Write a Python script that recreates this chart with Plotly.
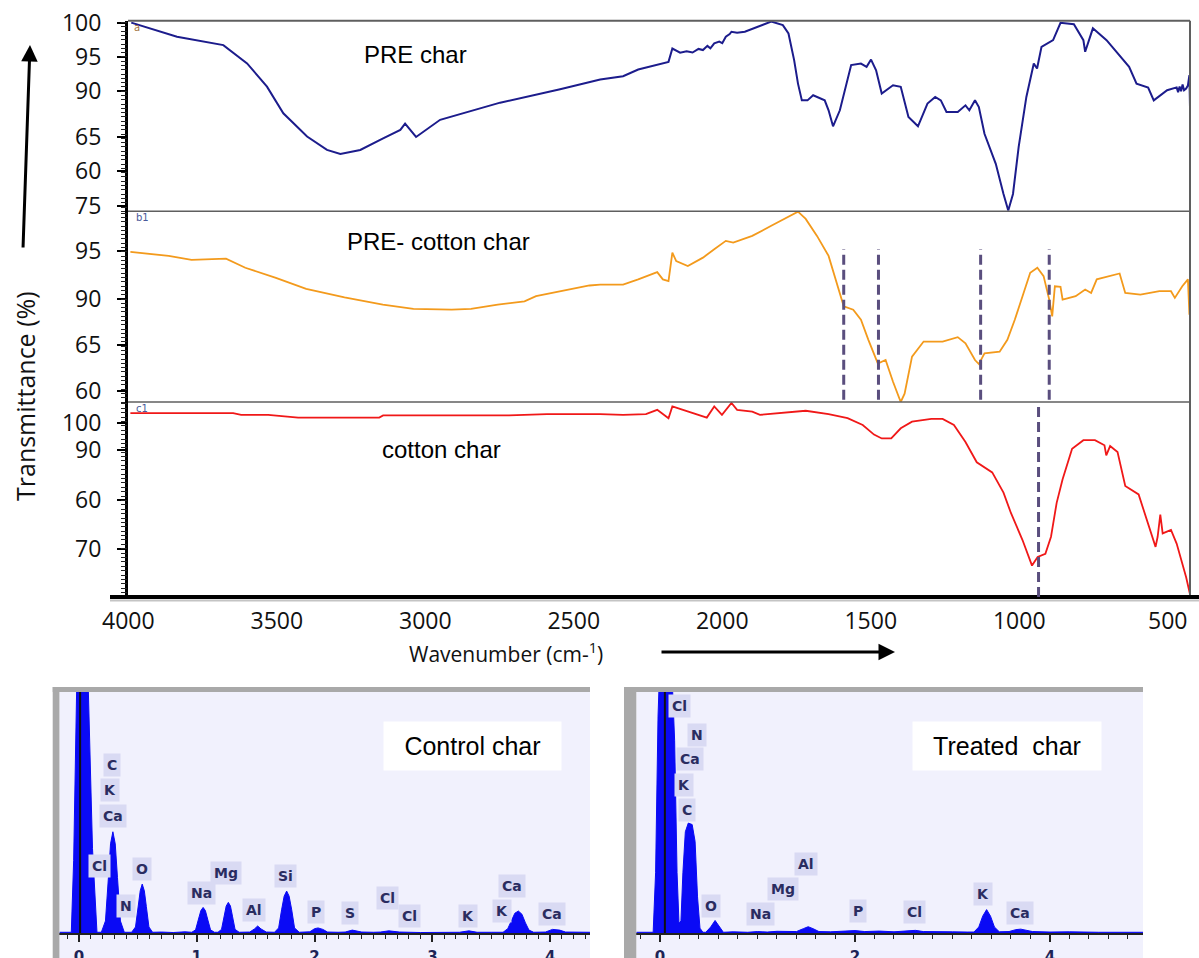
import plotly.graph_objects as go

# ---------------- FTIR spectra ----------------
# x: wavenumber (cm-1); y: transmittance expressed as relative height inside each stacked panel (0-100)
pre_wn = [3990, 3836, 3680, 3600, 3533, 3478, 3398, 3331, 3286, 3219,
          3142, 3084, 3068, 3031, 2950, 2748, 2546, 2411, 2334, 2283,
          2181, 2168, 2142, 2120, 2100, 2080, 2065, 2050, 2040, 2027,
          2010, 2000, 1988, 1975, 1969, 1950, 1924, 1835, 1796, 1777,
          1758, 1745, 1732, 1713, 1694, 1655, 1642, 1627, 1604, 1585,
          1566, 1533, 1514, 1499, 1482, 1463, 1425, 1399, 1373, 1341,
          1309, 1283, 1264, 1245, 1207, 1181, 1168, 1149, 1136, 1117,
          1079, 1053, 1037, 1021, 1002, 976, 951, 940, 925, 886,
          861, 816, 784, 778, 752, 706, 667, 630, 605, 566,
          547, 502, 470, 465, 460, 455, 450, 445, 438, 432,
          427, 426, 425]
pre_t = [99.0, 91.6, 87.2, 77.6, 65.4, 51.4, 39.2, 32.2, 30.1, 32.2,
         38.3, 42.7, 46.0, 39.0, 48.0, 57.0, 64.0, 69.1, 70.9, 74.4,
         78.4, 85.4, 83.2, 84.0, 83.3, 85.2, 84.6, 86.8, 85.5, 88.1,
         89.0, 88.2, 91.6, 93.0, 94.2, 93.7, 94.2, 99.5, 97.7, 93.3,
         79.3, 67.0, 58.2, 58.2, 60.9, 58.2, 53.0, 44.6, 53.0, 65.3,
         76.7, 77.5, 75.8, 79.6, 74.0, 61.8, 66.1, 65.3, 49.5, 44.6,
         56.5, 60.0, 58.2, 52.1, 52.1, 55.6, 53.0, 58.2, 54.7, 40.7,
         24.9, 9.1, 0.4, 9.1, 33.7, 60.0, 77.5, 74.9, 86.3, 89.8,
         98.9, 98.2, 89.8, 83.7, 96.0, 89.8, 82.8, 75.8, 67.0, 64.9,
         58.2, 63.5, 65.0, 62.5, 65.5, 63.0, 66.5, 63.5, 64.4, 66.0,
         71.4, 60.0, 54.7]

blend_wn = [3993, 3864, 3787, 3700, 3671, 3606, 3503, 3401, 3272, 3143,
            3040, 2911, 2846, 2756, 2666, 2627, 2524, 2447, 2411, 2334,
            2283, 2219, 2200, 2181, 2168, 2155, 2116, 2065, 2027, 1988,
            1963, 1899, 1835, 1771, 1745, 1719, 1681, 1642, 1617, 1591,
            1559, 1533, 1508, 1476, 1450, 1425, 1399, 1386, 1361, 1322,
            1258, 1207, 1181, 1149, 1136, 1117, 1066, 1040, 1015, 989,
            963, 939, 918, 899, 889, 880, 861, 854, 810, 778,
            758, 739, 694, 662, 643, 592, 528, 489, 476, 451,
            432, 427]
blend_t = [78.7, 76.6, 74.5, 75.0, 75.2, 70.4, 65.1, 59.3, 54.9, 51.1,
           48.8, 48.4, 48.8, 51.1, 52.8, 55.5, 58.6, 61.1, 61.6, 61.6,
           64.3, 68.1, 64.3, 63.4, 78.3, 73.9, 71.3, 75.7, 80.1, 84.5,
           83.6, 87.1, 92.4, 97.7, 99.8, 96.0, 87.1, 76.6, 64.3, 50.2,
           48.4, 43.1, 32.6, 20.2, 22.0, 10.6, 0.0, 4.4, 23.8, 31.7,
           31.7, 34.0, 30.8, 22.0, 19.9, 25.5, 26.4, 32.6, 43.1, 55.5,
           67.8, 70.4, 66.0, 53.7, 44.9, 60.7, 60.4, 53.7, 55.5, 59.0,
           57.2, 64.3, 66.0, 67.4, 57.2, 56.3, 58.1, 58.1, 54.6, 60.7,
           64.3, 45.8]

cotton_wn = [3993, 3647, 3620, 3529, 3428, 3155, 3142, 2718, 2590, 2411,
             2334, 2257, 2219, 2181, 2168, 2116, 2052, 2027, 2001, 1969,
             1950, 1899, 1873, 1719, 1642, 1578, 1527, 1489, 1463, 1431,
             1399, 1361, 1296, 1258, 1220, 1181, 1143, 1091, 1053, 1028,
             989, 957, 938, 912, 893, 874, 854, 822, 784, 745,
             713, 707, 694, 669, 643, 598, 566, 541, 534, 525,
             517, 489, 470, 451, 438, 425]
cotton_t = [94.3, 94.3, 93.4, 93.4, 92.0, 92.0, 93.1, 93.1, 93.8, 93.8,
            93.4, 93.8, 96.0, 91.7, 97.7, 95.1, 92.0, 97.7, 93.4, 99.5,
            96.0, 95.1, 93.4, 95.5, 93.8, 91.7, 88.2, 83.3, 81.3, 81.3,
            86.5, 89.9, 91.3, 91.3, 88.2, 79.5, 69.1, 63.9, 53.5, 43.1,
            29.2, 16.1, 20.5, 22.2, 30.9, 48.3, 60.4, 76.0, 80.4, 80.4,
            77.8, 72.6, 77.4, 74.3, 56.9, 52.6, 37.8, 25.7, 30.9, 42.2,
            32.6, 34.4, 27.4, 17.0, 10.1, 1.4]

blend_mark_wn = [1591, 1474, 1130, 899]
cotton_mark_wn = [935]

ftir_x_ticks = [4000, 3500, 3000, 2500, 2000, 1500, 1000, 500]
pre_ytick_pos = [98.9, 81.1, 63.3, 39.2, 21.3, 2.7]
pre_ytick_text = ["100", "95", "90", "65", "60", "75"]
blend_ytick_pos = [79, 54, 30, 6]
blend_ytick_text = ["95", "90", "65", "60"]
cotton_ytick_pos = [89.1, 75.2, 49.6, 24.8]
cotton_ytick_text = ["100", "90", "60", "70"]

# ---------------- EDS spectra (x: energy keV, y: relative counts, 100 = top of frame) ----------------
ctrl_kev = [-0.166, -0.065, -0.045, -0.02, 0.03, 0.08, 0.115, 0.153, 0.19, 0.225,
            0.25, 0.268, 0.288, 0.308, 0.327, 0.352, 0.385, 0.415, 0.447, 0.48,
            0.502, 0.52, 0.537, 0.555, 0.572, 0.594, 0.625, 0.7, 0.8, 0.9,
            0.958, 0.99, 1.015, 1.035, 1.054, 1.073, 1.092, 1.117, 1.15, 1.18,
            1.21, 1.233, 1.25, 1.268, 1.286, 1.303, 1.325, 1.36, 1.45, 1.49,
            1.517, 1.545, 1.59, 1.66, 1.695, 1.72, 1.742, 1.763, 1.784, 1.806,
            1.83, 1.87, 1.93, 1.96, 2.0, 2.03, 2.07, 2.11, 2.2, 2.26,
            2.32, 2.4, 2.5, 2.56, 2.63, 2.72, 2.9, 3.1, 3.23, 3.31,
            3.38, 3.5, 3.6, 3.64, 3.67, 3.7, 3.73, 3.76, 3.79, 3.82,
            3.86, 3.96, 4.02, 4.08, 4.13, 4.25, 4.338]
ctrl_cnt = [0.3, 0.3, 30, 100, 150, 100, 35, 0.3, 0.3, 5,
            23, 37, 42, 37, 23, 5, 0.3, 0.4, 0.3, 2.5,
            11, 17.5, 20.3, 17.5, 11, 2.5, 0.3, 0.4, 0.2, 0.5,
            0.3, 1.3, 5.8, 9.3, 10.6, 9.3, 5.8, 1.3, 0.3, 0.3,
            1.5, 7, 11.2, 12.7, 11.2, 7, 1.5, 0.3, 0.4, 1.7,
            2.9, 1.7, 0.4, 0.3, 2.1, 9.6, 15.3, 17.4, 15.3, 9.6,
            2.1, 0.3, 0.3, 0.5, 1.8, 2.1, 1.5, 0.4, 0.3, 0.4,
            1.2, 0.4, 0.3, 0.4, 0.9, 0.4, 0.2, 0.3, 0.3, 0.9,
            0.3, 0.3, 0.3, 1.8, 5, 8.2, 9.1, 7.8, 4.2, 1.2,
            0.3, 0.4, 1.5, 1.2, 0.4, 0.2, 0.3]

trt_kev = [-0.243, -0.07, -0.045, -0.02, 0.03, 0.1, 0.15, 0.175, 0.195, 0.215,
           0.235, 0.26, 0.29, 0.33, 0.36, 0.385, 0.41, 0.44, 0.47, 0.52,
           0.565, 0.61, 0.65, 0.75, 0.9, 1.0, 1.1, 1.2, 1.3, 1.4,
           1.47, 1.52, 1.57, 1.63, 1.75, 1.9, 2.0, 2.1, 2.25, 2.4,
           2.55, 2.62, 2.7, 2.85, 3.0, 3.15, 3.22, 3.27, 3.31, 3.35,
           3.39, 3.43, 3.48, 3.58, 3.65, 3.7, 3.75, 3.82, 4.0, 4.2,
           4.5, 4.8, 4.954]
trt_cnt = [0.3, 0.3, 25, 90, 150, 130, 80, 25, 4, 5,
           25, 42, 45.6, 45, 38, 15, 2, 0.3, 0.3, 2.5,
           5.2, 2.5, 0.3, 0.5, 0.3, 0.6, 0.4, 0.7, 0.5, 0.6,
           1.8, 2.6, 1.8, 0.6, 0.5, 0.7, 1.0, 0.6, 0.8, 0.5,
           0.8, 1.1, 0.6, 0.7, 0.5, 0.4, 0.4, 2.5, 7, 9.7,
           7, 2.5, 0.5, 0.6, 1.4, 1.6, 1.3, 0.6, 0.4, 0.5,
           0.3, 0.4, 0.3]

ctrl_el = ["C", "K", "Ca", "Cl", "N", "O", "Na", "Mg", "Al", "Si", "P", "S", "Cl", "Cl", "K", "K", "Ca", "Ca"]
ctrl_el_kev = [0.28, 0.263, 0.289, 0.178, 0.399, 0.535, 1.036, 1.252, 1.486, 1.749, 2.012, 2.3, 2.623, 2.81, 3.299, 3.587, 3.679, 4.015]
ctrl_el_y = [69.7, 59.3, 48.5, 27.8, 11.2, 26.6, 16.6, 24.9, 9.5, 23.7, 8.7, 8.3, 14.5, 7.1, 7.1, 9.1, 19.5, 7.9]

trt_el = ["Cl", "N", "Ca", "K", "C", "Al", "Mg", "O", "Na", "P", "Cl", "K", "Ca"]
trt_el_kev = [0.205, 0.379, 0.308, 0.246, 0.277, 1.497, 1.257, 0.521, 1.03, 2.029, 2.615, 3.31, 3.692]
trt_el_y = [94.2, 82.2, 72.2, 61.5, 51.1, 28.7, 18.4, 11.4, 8.0, 9.0, 8.8, 16.3, 8.4]

ctrl_zero_kev = 0.01
trt_zero_kev = 0.05

# ---------------- layout helpers (pixel -> paper) ----------------
W, H = 1199, 958
def fx(p):
    return p / W
def fy(p):
    return 1 - p / H

FL, FR = 128, 1190
P1T, P1B, P2B, P3B = 20.7, 211.3, 402, 597
COMB_STEP = 2.25

BLUE = "#1c1c8c"
ORANGE = "#f39a1c"
RED = "#f01818"
MARK = "#5a4e7e"
EDS_BLUE = "#0a0af5"
LAV = "#f1f1fd"
FRAME = "#a9a9a9"

fig = go.Figure()

fig.add_trace(go.Scatter(x=pre_wn, y=pre_t, xaxis="x", yaxis="y", mode="lines",
                         line=dict(color=BLUE, width=2), showlegend=False))
fig.add_trace(go.Scatter(x=blend_wn, y=blend_t, xaxis="x", yaxis="y2", mode="lines",
                         line=dict(color=ORANGE, width=1.8), showlegend=False))
fig.add_trace(go.Scatter(x=cotton_wn, y=cotton_t, xaxis="x", yaxis="y3", mode="lines",
                         line=dict(color=RED, width=1.8), showlegend=False))
# empty traces so that the overlaid comb-tick axes get drawn
for ax_id in ("y6", "y7", "y8"):
    fig.add_trace(go.Scatter(x=[], y=[], xaxis="x", yaxis=ax_id, mode="lines",
                             hoverinfo="skip", showlegend=False))

fig.add_trace(go.Scatter(x=ctrl_kev, y=ctrl_cnt, xaxis="x2", yaxis="y4", mode="lines",
                         line=dict(color=EDS_BLUE, width=1), fill="tozeroy",
                         fillcolor=EDS_BLUE, showlegend=False))
fig.add_trace(go.Scatter(x=trt_kev, y=trt_cnt, xaxis="x3", yaxis="y5", mode="lines",
                         line=dict(color=EDS_BLUE, width=1), fill="tozeroy",
                         fillcolor=EDS_BLUE, showlegend=False))

tick_font = dict(family="Open Sans", size=23, color="#111111")

def ftir_y(domain, pos, text):
    return dict(domain=domain, range=[0, 100], anchor="x", showgrid=False, zeroline=False,
                showline=True, linecolor="black", linewidth=3,
                ticks="outside", ticklen=8, tickwidth=1.5, tickcolor="black",
                tickmode="array", tickvals=pos, ticktext=text, tickfont=tick_font,
                ticklabelstandoff=11, automargin=False, fixedrange=True)

def ftir_comb(base):
    return dict(overlaying=base, range=[0, 100], anchor="x", side="left",
                showgrid=False, zeroline=False, showline=False,
                ticks="outside", ticklen=6, tickwidth=1.2, tickcolor="#222222",
                tickmode="linear", tick0=0, dtick=COMB_STEP, showticklabels=False,
                automargin=False, fixedrange=True)

eds_tick_font = dict(family="DejaVu Sans", size=15, color="#1e2456", weight="bold")

def eds_x(domain, rng, anchor, major, minor):
    return dict(domain=domain, range=rng, anchor=anchor, showgrid=False, zeroline=False,
                showline=True, linecolor="#222222", linewidth=2,
                ticks="outside", ticklen=7, tickwidth=1.5, tickcolor="#222222",
                tickmode="linear", tick0=0, dtick=major, tickfont=eds_tick_font,
                ticklabelstandoff=2,
                minor=dict(ticks="outside", ticklen=4, tickwidth=1.2, tickcolor="#222222",
                           tickmode="linear", tick0=0, dtick=minor),
                automargin=False, fixedrange=True)

def eds_y(anchor):
    return dict(domain=[fy(933), fy(692)], range=[0, 100], anchor=anchor, visible=False,
                automargin=False, fixedrange=True)

fig.update_layout(
    width=W, height=H, margin=dict(l=0, r=0, t=0, b=0),
    paper_bgcolor="white", plot_bgcolor="rgba(0,0,0,0)", showlegend=False,
    xaxis=dict(domain=[fx(FL), fx(FR)], range=[4001, 425], anchor="y3",
               showgrid=False, zeroline=False, showline=False, ticks="",
               tickmode="array", tickvals=ftir_x_ticks,
               ticktext=[str(v) for v in ftir_x_ticks], tickfont=tick_font,
               ticklabelstandoff=8, automargin=False, fixedrange=True),
    yaxis=ftir_y([fy(P1B), fy(P1T)], pre_ytick_pos, pre_ytick_text),
    yaxis2=ftir_y([fy(P2B), fy(P1B)], blend_ytick_pos, blend_ytick_text),
    yaxis3=ftir_y([fy(P3B), fy(P2B)], cotton_ytick_pos, cotton_ytick_text),
    yaxis6=ftir_comb("y"),
    yaxis7=ftir_comb("y2"),
    yaxis8=ftir_comb("y3"),
    xaxis2=eds_x([fx(59.4), fx(590)], [-0.166, 4.338], "y4", 1, 0.1),
    yaxis4=eds_y("x2"),
    xaxis3=eds_x([fx(636.3), fx(1143)], [-0.243, 4.954], "y5", 2, 0.2),
    yaxis5=eds_y("x3"),
)

shapes = []
def pline(x0, y0, x1, y1, color, width):
    return dict(type="line", xref="paper", yref="paper", x0=fx(x0), y0=fy(y0), x1=fx(x1), y1=fy(y1),
                line=dict(color=color, width=width))

def prect(x0, y0, x1, y1, color, layer="below"):
    return dict(type="rect", xref="paper", yref="paper", x0=fx(x0), y0=fy(y0), x1=fx(x1), y1=fy(y1),
                fillcolor=color, line=dict(width=0), layer=layer)

# FTIR frame
shapes.append(pline(FL, P1T, FR, P1T, "#5f5f5f", 2))
shapes.append(pline(FL, P1B, FR, P1B, "#5f5f5f", 1.6))
shapes.append(pline(FL, P2B, FR, P2B, "#5f5f5f", 1.6))
shapes.append(pline(FR, P1T, FR, P3B, "#5f5f5f", 2))
shapes.append(pline(110, 600.5, 1199, 600.5, "#c4c4c4", 2))
shapes.append(pline(110, P3B, 1199, P3B, "black", 4))

# marker lines on spectra
for w in blend_mark_wn:
    shapes.append(dict(type="line", xref="x", yref="y2", x0=w, x1=w, y0=1.2, y1=80.1,
                       line=dict(color=MARK, width=3, dash="10px,5px")))
for w in cotton_mark_wn:
    shapes.append(dict(type="line", xref="x", yref="y3", x0=w, x1=w, y0=0, y1=102,
                       line=dict(color=MARK, width=3, dash="10px,5px")))

# EDS panels backgrounds and frames
shapes.append(prect(59.4, 692, 590, 958, LAV))
shapes.append(prect(636.3, 692, 1143, 958, LAV))
shapes.append(prect(52.7, 687, 59.4, 958, FRAME, "above"))
shapes.append(prect(52.7, 687, 590, 692, FRAME, "above"))
shapes.append(prect(624, 687, 636.3, 958, FRAME, "above"))
shapes.append(prect(624, 687, 1143, 692, FRAME, "above"))
shapes.append(dict(type="line", xref="x2", yref="y4", x0=ctrl_zero_kev, x1=ctrl_zero_kev, y0=0, y1=100,
                   line=dict(color="#111111", width=2)))
shapes.append(dict(type="line", xref="x3", yref="y5", x0=trt_zero_kev, x1=trt_zero_kev, y0=0, y1=100,
                   line=dict(color="#111111", width=2)))

fig.update_layout(shapes=shapes)

ann = []
def ptext(x, y, text, size, family="Liberation Sans", color="black", **kw):
    d = dict(xref="paper", yref="paper", x=fx(x), y=fy(y), text=text, showarrow=False,
             xanchor="center", yanchor="middle",
             font=dict(family=family, size=size, color=color))
    d.update(kw)
    return d

ann.append(ptext(415, 55, "PRE char", 24))
ann.append(ptext(438, 241, "PRE- cotton char", 24))
ann.append(ptext(441, 449, "cotton char", 24))
ann.append(ptext(137, 28, "a", 10, family="DejaVu Sans", color="#a07040"))
ann.append(ptext(142, 218, "b1", 10, family="DejaVu Sans", color="#4a5a9a"))
ann.append(ptext(142, 409, "c1", 10, family="DejaVu Sans", color="#4a5a9a"))
ann.append(ptext(25, 396, "Transmittance (%)", 25, family="Open Sans", color="#111111", textangle=-90))
ann.append(ptext(506, 652, "Wavenumber (cm-<sup>1</sup>)", 21, family="Open Sans", color="#111111"))

# arrows
ann.append(dict(xref="paper", yref="paper", x=fx(30), y=fy(45), text="", showarrow=True,
                axref="pixel", ayref="pixel", ax=-7, ay=204, arrowhead=2, arrowsize=1.1,
                arrowwidth=3, arrowcolor="black"))
ann.append(dict(xref="paper", yref="paper", x=fx(895), y=fy(652), text="", showarrow=True,
                axref="pixel", ayref="pixel", ax=-235, ay=0, arrowhead=2, arrowsize=1.1,
                arrowwidth=3, arrowcolor="black"))

# EDS element labels
el_font = dict(family="DejaVu Sans", size=14, color="#2a2c60", weight="bold")
for t, k, v in zip(ctrl_el, ctrl_el_kev, ctrl_el_y):
    ann.append(dict(xref="x2", yref="y4", x=k, y=v, text=t, showarrow=False, font=el_font,
                    bgcolor="#d9daf3", borderpad=3))
for t, k, v in zip(trt_el, trt_el_kev, trt_el_y):
    ann.append(dict(xref="x3", yref="y5", x=k, y=v, text=t, showarrow=False, font=el_font,
                    bgcolor="#d9daf3", borderpad=3))

# EDS sample boxes
ann.append(ptext(472, 746, "Control char", 25, bgcolor="white", width=175, height=46))
ann.append(ptext(1007, 746, "Treated\u00a0 char", 25, bgcolor="white", width=186, height=46))

fig.update_layout(annotations=ann)

fig.write_html("out.html", config={"displayModeBar": False},
               post_script="document.body.style.margin='0px';")
